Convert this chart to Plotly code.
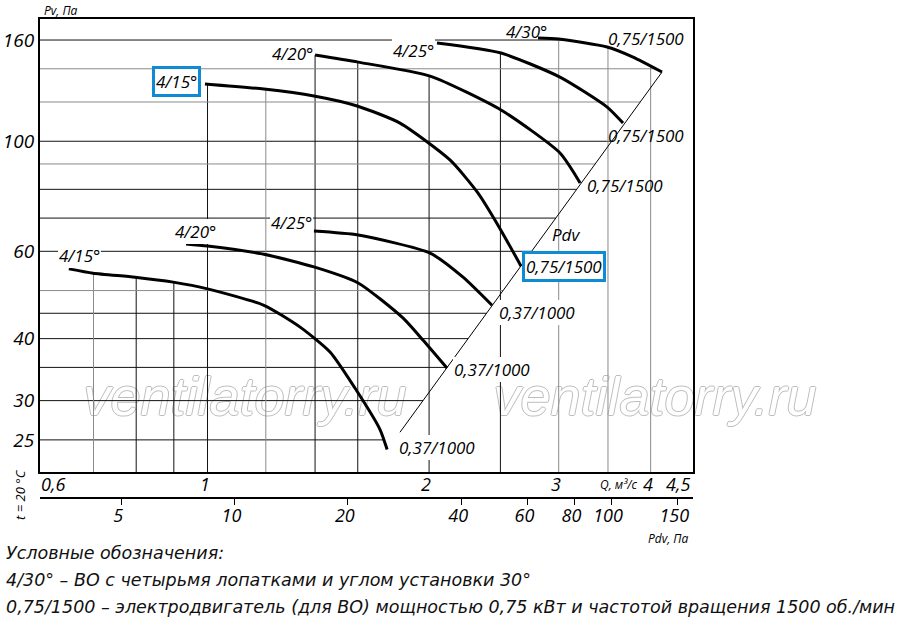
import numpy as np
import plotly.graph_objects as go

# ---------------- data ----------------
# Upper family: motor 0,75/1500
Q_U15 = [0.992, 1.193, 1.395, 1.597, 1.826, 2.135, 2.331, 2.489, 2.667]
P_U15 = [130.5, 127.4, 123.4, 117.8, 108.8, 91.7, 78.6, 67.2, 56.0]
Q_U20 = [1.40, 1.602, 2.006, 2.505, 3.012, 3.208]
P_U20 = [149.2, 144.4, 135.3, 115.6, 94.7, 82.4]
Q_U25 = [2.05, 2.505, 3.012, 3.491, 3.669]
P_U25 = [157.8, 150.6, 134.7, 117.2, 108.8]
Q_U30 = [2.812, 3.0, 3.491, 3.786, 4.145]
P_U30 = [161.5, 160.7, 154.9, 147.8, 137.9]
# Lower family: motor 0,37/1000
Q_L15 = [0.648, 0.699, 0.797, 0.898, 1.0, 1.193, 1.336, 1.467, 1.586, 1.716, 1.754]
P_L15 = [55.3, 54.2, 53.2, 52.0, 50.4, 46.7, 42.2, 37.6, 31.8, 26.2, 23.9]
Q_L20 = [0.935, 1.0, 1.193, 1.395, 1.602, 1.844, 1.963, 2.115]
P_L20 = [62.1, 61.5, 59.2, 55.8, 51.8, 44.0, 39.7, 34.9]
Q_L25 = [1.395, 1.602, 2.006, 2.224, 2.435]
P_L25 = [65.9, 64.7, 59.5, 53.2, 46.7]
# Pdv line (dynamic pressure)
Q_PDV = [1.826, 4.145]
P_PDV = [25.9, 137.9]

ANGLE_LABELS = ["4/15°", "4/20°", "4/25°", "4/30°", "4/15°", "4/20°", "4/25°"]
MOTOR_LABELS = ["0,75/1500", "0,75/1500", "0,75/1500", "0,75/1500",
                "0,37/1000", "0,37/1000", "0,37/1000"]

P_GRID = [25, 30, 35, 40, 45, 50, 60, 70, 80, 90, 100, 120, 140, 160]
Q_GRID = [0.7, 0.8, 0.9, 1, 1.2, 1.4, 1.6, 2, 2.5, 3, 3.5, 4]
Y_TICKS = [25, 30, 40, 60, 100, 160]
Q_TICKS = [0.6, 1, 2, 3, 4, 4.5]
Q_TICKTEXT = ["0,6", "1", "2", "3", "4", "4,5"]
PDV_TICKS = [5, 10, 20, 40, 60, 80, 100, 150]
PDV_TICKTEXT = ["5", "10", "20", "40", "60", "80", "100", "150"]

# ---------------- styles / layout constants ----------------
XR = [-0.2276, 0.6596]        # log10 Q range
YR = [1.3332, 2.2465]         # log10 P range
PR = [0.4834, 2.2178]         # log10 Pdv range (bottom scale)
GRAY_P = {140, 120, 90, 50}
GRAY_Q = {0.7, 1.2, 3, 3.5, 4}
BLUE = "#0F8AD6"
NUMFONT = "Open Sans, Noto Sans, sans-serif"
NONE = "rgba(0,0,0,0)"

CURVES = [(Q_U15, P_U15), (Q_U20, P_U20), (Q_U25, P_U25), (Q_U30, P_U30),
          (Q_L15, P_L15), (Q_L20, P_L20), (Q_L25, P_L25)]
# label placement (anchor, xshift, yshift, boxed, white background)
START_STYLE = [("right", -4, 2, True, True), ("right", -1, 2, False, True),
               ("right", -2, -7, False, True), ("right", 10, 7, False, False),
               ("center", 11, 13, False, True), ("center", 9, 12, False, True),
               ("right", -1, 9, False, True)]
END_STYLE = [("left", 1, 0, True, True), ("left", 6, -3, False, False),
             ("left", -16, -12, False, False), ("center", -16, 34, False, False),
             ("left", 11, 2, False, True), ("left", 6, -1, False, True),
             ("left", 6, -7, False, True)]


def interp_log(xs, ys, v):
    lx, ly = np.log10(xs), np.log10(ys)
    order = np.argsort(lx)
    lx, ly = lx[order], ly[order]
    lv = np.log10(v)
    if lv < lx.min() - 1e-9 or lv > lx.max() + 1e-9:
        return None
    return 10 ** np.interp(lv, lx, ly)


fig = go.Figure()

# ---------------- grid clipped to the curve envelope ----------------
segs = {"#111111": ([], []), "#8a8a8a": ([], [])}
qmin, pmin = 10 ** XR[0], 10 ** YR[0]
for p in P_GRID:
    ends = [interp_log(pp, qq, p) for qq, pp in CURVES + [(Q_PDV, P_PDV)]]
    ends = [e for e in ends if e is not None]
    if not ends:
        continue
    col = "#8a8a8a" if p in GRAY_P else "#111111"
    segs[col][0].extend([qmin, max(ends), None])
    segs[col][1].extend([p, p, None])
for q in Q_GRID:
    tops = [interp_log(qq, pp, q) for qq, pp in CURVES]
    tops = [t for t in tops if t is not None]
    if not tops:
        continue
    col = "#8a8a8a" if q in GRAY_Q else "#111111"
    segs[col][0].extend([q, q, None])
    segs[col][1].extend([pmin, max(tops), None])
for col, (xs, ys) in segs.items():
    fig.add_trace(go.Scatter(x=xs, y=ys, mode="lines", line=dict(color=col, width=1),
                             hoverinfo="skip"))

# Pdv line
fig.add_trace(go.Scatter(x=Q_PDV, y=P_PDV, mode="lines",
                         line=dict(color="black", width=1), hoverinfo="skip"))

# curves
for qq, pp in CURVES:
    fig.add_trace(go.Scatter(x=qq, y=pp, mode="lines",
                             line=dict(color="black", width=3, shape="spline", smoothing=0.6)))

# invisible trace so the bottom Pdv scale is drawn
fig.add_trace(go.Scatter(x=[PDV_TICKS[0], PDV_TICKS[-1]], y=[None, None], xaxis="x2", yaxis="y",
                         mode="lines", hoverinfo="skip"))

lg = lambda v: float(np.log10(v))
ann = []
lab_font = dict(family=NUMFONT, size=17, color="black", style="italic")
for i, (qq, pp) in enumerate(CURVES):
    for (xa, xs, ys, boxed, bg), q0, p0, txt in [
            (START_STYLE[i], qq[0], pp[0], ANGLE_LABELS[i]),
            (END_STYLE[i], qq[-1], pp[-1], MOTOR_LABELS[i])]:
        ann.append(dict(x=lg(q0), y=lg(p0), xref="x", yref="y", text=txt,
                        showarrow=False, xanchor=xa, yanchor="middle", xshift=xs, yshift=ys,
                        font=lab_font, bgcolor="white" if bg else NONE, borderpad=1,
                        bordercolor=BLUE if boxed else NONE, borderwidth=3 if boxed else 0))

# "Pdv" on the diagonal
p_lab = 65.0
q_lab = interp_log(P_PDV, Q_PDV, p_lab)
ann.append(dict(x=lg(q_lab), y=lg(p_lab), xref="x", yref="y", text="Pdv", showarrow=False,
                xanchor="center", yanchor="middle", xshift=22,
                font=dict(family=NUMFONT, size=17, color="black", style="italic")))

# Q axis labels
num_font = dict(family=NUMFONT, size=18, color="black", style="italic")
for v, t in zip(Q_TICKS, Q_TICKTEXT):
    xa = "left" if v == Q_TICKS[0] else ("right" if v == Q_TICKS[-1] else "center")
    xs = -5 if v == Q_TICKS[0] else (4 if v == Q_TICKS[-1] else -3)
    ann.append(dict(x=lg(v), y=YR[0], xref="x", yref="y", text=t, showarrow=False,
                    xanchor=xa, yanchor="top", xshift=xs, yshift=2, font=num_font))
ann.append(dict(x=lg(Q_TICKS[4]), y=YR[0], xref="x", yref="y", text="Q, м³/с", showarrow=False,
                xanchor="right", yanchor="top", xshift=-12, yshift=-2,
                font=dict(family=NUMFONT, size=12, color="black", style="italic")))


def pap(x, y):
    return (x - 40) / 653, (498 - y) / 479


small = dict(family=NUMFONT, size=12, color="black", style="italic")
x, y = pap(61, 11)
ann.append(dict(x=x, y=y, xref="paper", yref="paper", text="Pv, Па", showarrow=False,
                xanchor="center", yanchor="middle", font=small))
x, y = pap(668, 538)
ann.append(dict(x=x, y=y, xref="paper", yref="paper", text="Pdv, Па", showarrow=False,
                xanchor="center", yanchor="middle", font=small))
x, y = pap(20, 495)
ann.append(dict(x=x, y=y, xref="paper", yref="paper", text="t = 20 °C", showarrow=False,
                xanchor="center", yanchor="middle", textangle=-90,
                font=dict(family=NUMFONT, size=13, color="black", style="italic")))

leg_font = dict(family="DejaVu Sans, sans-serif", size=17.5, color="#111111", style="italic")
for txt, yy in [("Условные обозначения:", 553),
                ("4/30° – ВО с четырьмя лопатками и углом установки 30°", 580),
                ("0,75/1500 – электродвигатель (для ВО) мощностью 0,75 кВт и частотой вращения 1500 об./мин", 607)]:
    x, y = pap(4, yy)
    ann.append(dict(x=x, y=y, xref="paper", yref="paper", text=txt, showarrow=False,
                    xanchor="left", yanchor="middle", font=leg_font))

shapes = []
for cx in (245, 655):
    x0, y0 = pap(cx - 180, 420)
    x1, y1 = pap(cx + 180, 362)
    shapes.append(dict(type="rect", xref="paper", yref="paper", x0=x0, x1=x1, y0=y0, y1=y1,
                       line=dict(width=0), fillcolor=NONE, layer="below",
                       label=dict(text="ventilatorry.ru", textposition="middle center",
                                  font=dict(family="Liberation Sans, Arial, sans-serif", size=54,
                                            color="white", style="italic",
                                            shadow="1px 0 0 #bdbdbd, -1px 0 0 #bdbdbd, 0 1px 0 #bdbdbd, 0 -1px 0 #bdbdbd"))))

fig.update_layout(
    width=900, height=622,
    margin=dict(l=40, r=207, t=19, b=124, autoexpand=False),
    plot_bgcolor="white", paper_bgcolor="white", showlegend=False,
    annotations=ann, shapes=shapes,
    xaxis=dict(type="log", range=XR, showgrid=False, zeroline=False, showline=True, mirror=True,
               linecolor="black", linewidth=2, ticks="", showticklabels=False),
    yaxis=dict(type="log", range=YR, domain=[0.0543, 1], showgrid=False, zeroline=False,
               showline=True, mirror=True, linecolor="black", linewidth=2, ticks="",
               tickvals=Y_TICKS, ticktext=[str(v) for v in Y_TICKS],
               tickfont=dict(family=NUMFONT, size=19, color="black", style="italic")),
    xaxis2=dict(type="log", range=PR, overlaying="x", anchor="free", position=0,
                showgrid=False, zeroline=False, showline=True, linecolor="black", linewidth=1.5,
                ticks="outside", ticklen=6, tickcolor="black", tickwidth=1,
                tickvals=PDV_TICKS, ticktext=PDV_TICKTEXT, ticklabelshift=-3,
                ticklabelstandoff=-4,
                tickfont=dict(family=NUMFONT, size=18, color="black", style="italic")),
)

fig.write_html("out.html", config={"displayModeBar": False},
               post_script="document.body.style.margin='0';document.body.style.overflow='hidden';")
